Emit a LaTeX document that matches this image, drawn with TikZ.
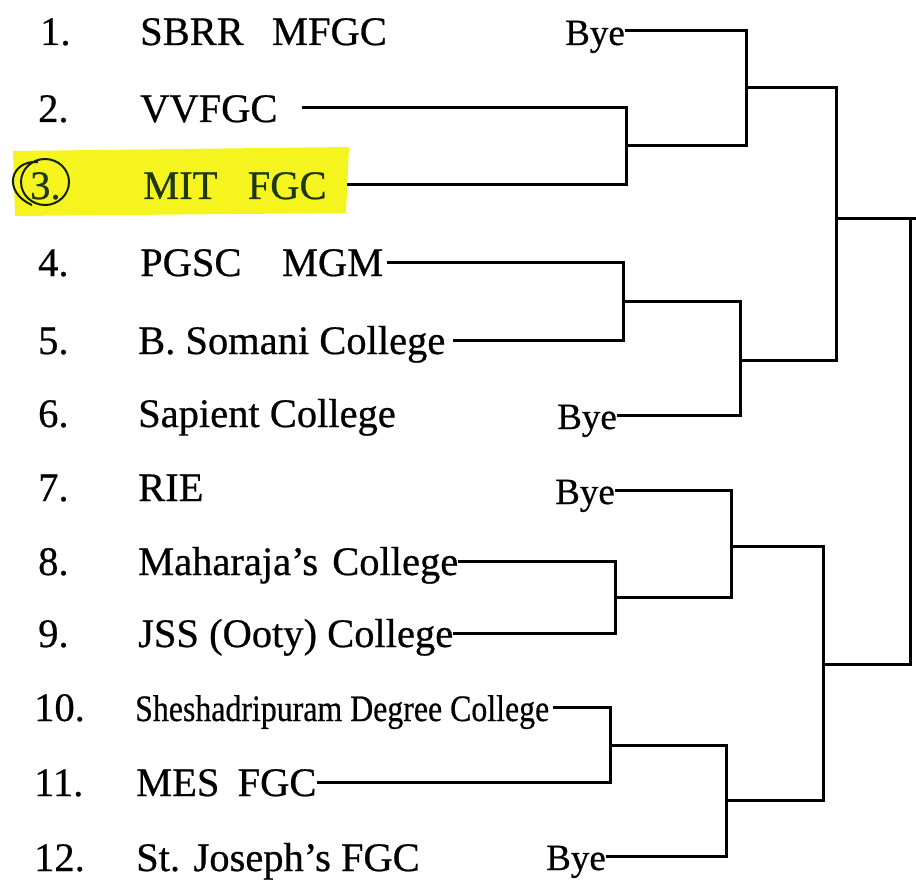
\documentclass[tikz,border=0pt]{standalone}
\usepackage{fontspec}
\setmainfont{Liberation Serif}
\newfontfamily\entryfont[FakeBold=0.6]{Liberation Serif}
\usepackage{xcolor}
\usepackage{tikz}
\definecolor{marker}{RGB}{246,244,30}
\definecolor{inkgreen}{RGB}{30,55,15}

\begin{document}
\begin{tikzpicture}[x=1pt,y=-1pt]
\tikzstyle{every node}+=[inner sep=0pt, anchor=west, text height=28pt, text depth=0pt, font=\entryfont\fontsize{40.5}{48}\selectfont]
\tikzstyle{bye}=[font=\entryfont\fontsize{37}{44}\selectfont]
\tikzstyle{bracket}=[line width=3pt, line join=miter]
\useasboundingbox (0,0) rectangle (916,880);
% highlighter on entry 3
\fill [marker] (13,151) -- (349,147) -- (346,213) -- (15,216) -- cycle;
\draw [line width=2pt, inkgreen!60!black] (45,182) circle [x radius=24pt, y radius=23pt];
\draw [line width=2pt, inkgreen!60!black] (38,162) .. controls (10,160) and (2,192) .. (32,205);
% numbers
\node (n1) at (40,31) {1.};
\node (n2) at (38,108) {2.};
\node [text=inkgreen] (n3) at (30,185) {3.};
\node (n4) at (38,262) {4.};
\node (n5) at (38,340) {5.};
\node (n6) at (38,413) {6.};
\node (n7) at (38,487) {7.};
\node (n8) at (38,561) {8.};
\node (n9) at (38,633) {9.};
\node (n10) at (34,707) {10.};
\node (n11) at (34,782) {11.};
\node (n12) at (34,857) {12.};
% colleges
\node (c1) at (140,31) {SBRR\hspace{0.7em}MFGC};
\node (c2) at (140,108) {VVFGC};
\node [text=inkgreen] (c3) at (143,185) {MIT\hspace{0.75em}FGC};
\node (c4) at (140,262) {PGSC\hspace{1em}MGM};
\node (c5) at (138,340) {B. Somani College};
\node (c6) at (138,413) {Sapient College};
\node (c7) at (138,487) {RIE};
\node (c8) at (138,561) {Maharaja’s\hspace{0.35em}College};
\node (c9) at (138,633) {JSS (Ooty) College};
\node (c10) at (135,707) {\resizebox{414pt}{0.92\height}{Sheshadripuram Degree College}};
\node (c11) at (136,782) {MES\hspace{0.45em}FGC};
\node (c12) at (136,857) {St. Joseph’s FGC};
% byes
\node [bye] (bye1) at (565,31) {Bye};
\node [bye] (bye6) at (557,415) {Bye};
\node [bye] (bye7) at (555,490) {Bye};
\node [bye] (bye12) at (546,856) {Bye};
% first round
\coordinate (m23) at (626,146);
\draw [bracket] ([xshift=24pt]c2.east) -| (m23) |- ([xshift=20pt]c3.east);
\coordinate (m45) at (623,301);
\draw [bracket] ([xshift=4pt]c4.east) -| (m45) |- ([xshift=7pt]c5.east);
\coordinate (m89) at (615,597);
\draw [bracket] (c8.east) -| (m89) |- (c9.east);
\coordinate (m1011) at (610,745);
\draw [bracket] ([xshift=4pt]c10.east) -| (m1011) |- (c11.east);
% second round
\coordinate (q1) at (746,88);
\draw [bracket] (bye1.east) -| (q1) |- (m23);
\coordinate (q2) at (740,360);
\draw [bracket] (m45) -| (q2) |- (bye6.east);
\coordinate (q3) at (731,546);
\draw [bracket] (bye7.east) -| (q3) |- (m89);
\coordinate (q4) at (726,800);
\draw [bracket] (m1011) -| (q4) |- (bye12.east);
% semi finals
\coordinate (s1) at (836,218);
\draw [bracket] (q1) -| (s1) |- (q2);
\coordinate (s2) at (823,664);
\draw [bracket] (q3) -| (s2) |- (q4);
% final
\coordinate (fin) at (910,218);
\coordinate (out) at (916,218);
\draw [bracket] (s1) -- (out);
\draw [bracket] (s2) -| (fin);
\end{tikzpicture}
\end{document}
